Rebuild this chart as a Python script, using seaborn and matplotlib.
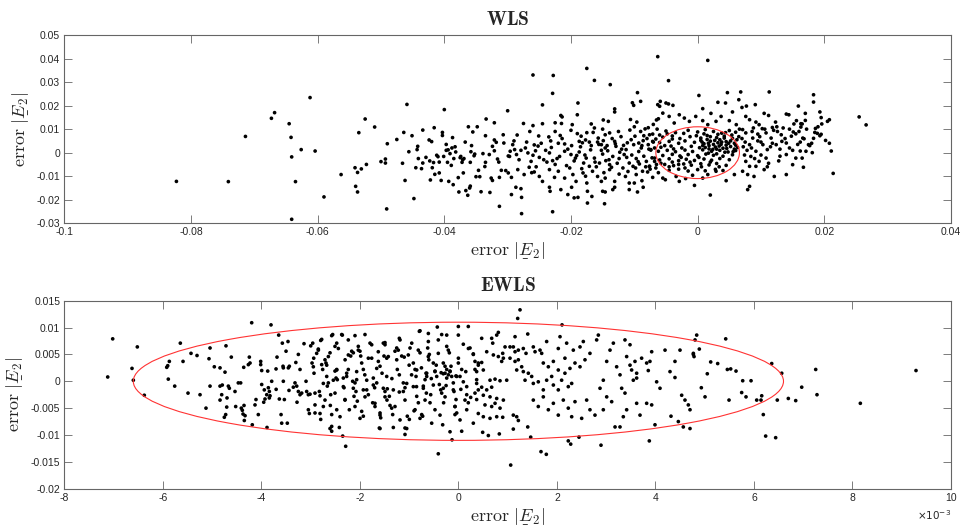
import numpy as np
import pandas as pd
import seaborn as sns
import matplotlib
matplotlib.use("Agg")
import matplotlib.pyplot as plt
from matplotlib.patches import Ellipse
from matplotlib.ticker import FuncFormatter
from matplotlib.mathtext import MathTextParser

# ---------------- data ----------------
# WLS panel: (error x, error y)
wls_left = [(-0.0823,-0.0122),(-0.0741,-0.0123),(-0.0714,0.0069),(-0.0673,0.0146),(-0.0668,0.0170),(-0.0645,0.0123),(-0.0642,0.0065),(-0.0641,-0.0018),(-0.0641,-0.0283),(-0.0635,-0.0123),(-0.0626,0.0013),(-0.0612,0.0234),(-0.0604,0.0007),(-0.0590,-0.0188),(-0.0563,-0.0093),(-0.0541,-0.0064),(-0.0540,-0.0143),(-0.0537,-0.0167),(-0.0537,-0.0084),(-0.0535,0.0085),(-0.0531,-0.0069),(-0.0525,0.0143),(-0.0523,-0.0050),(-0.0510,0.0109),(-0.0500,-0.0038),(-0.0493,-0.0027),(-0.0493,-0.0044),(-0.0491,-0.0239),(-0.0490,0.0038),(-0.0475,0.0056),(-0.0466,-0.0045),(-0.0464,0.0086),(-0.0462,-0.0118),(-0.0459,0.0205),(-0.0456,0.0004),(-0.0451,0.0072),(-0.0448,-0.0195),(-0.0445,-0.0064),(-0.0443,0.0013),(-0.0442,0.0027),(-0.0441,-0.0025),(-0.0436,-0.0068),(-0.0434,0.0096),(-0.0434,-0.0044),(-0.0429,-0.0020),(-0.0424,0.0054),(-0.0423,-0.0035),(-0.0422,-0.0116),(-0.0420,0.0047),(-0.0419,-0.0064),(-0.0417,-0.0042),(-0.0416,0.0106),(-0.0415,-0.0092),(-0.0412,-0.0011),(-0.0410,-0.0017),(-0.0408,-0.0086),(-0.0408,-0.0040),(-0.0405,-0.0118),(-0.0403,0.0086),(-0.0403,0.0073),(-0.0401,-0.0016),(-0.0400,0.0183),(-0.0397,0.0035),(-0.0397,0.0010),(-0.0394,0.0012),(-0.0395,-0.0041),(-0.0393,-0.0122),(-0.0391,-0.0004),(-0.0389,-0.0054),(-0.0388,0.0020),(-0.0387,0.0064),(-0.0386,-0.0136),(-0.0385,-0.0025),(-0.0383,0.0025),(-0.0382,0.0003),(-0.0378,-0.0106),(-0.0377,-0.0167),(-0.0375,-0.0021),(-0.0374,-0.0016),(-0.0372,-0.0041),(-0.0371,-0.0030),(-0.0370,-0.0086),(-0.0369,-0.0025),(-0.0367,0.0045),(-0.0366,-0.0161),(-0.0363,-0.0181),(-0.0362,0.0110),(-0.0360,-0.0150),(-0.0359,-0.0142),(-0.0359,-0.0041),(-0.0358,0.0004),(-0.0357,0.0030),(-0.0355,0.0088),(-0.0353,-0.0013),(-0.0352,-0.0006),(-0.0350,-0.0102),(-0.0348,0.0110),(-0.0346,-0.0075)]

wls_mid1 = [(-0.0334,0.0143),(-0.0321,0.0127),(-0.0335,0.0072),(-0.0307,0.0076),(-0.0300,0.0178),(-0.0321,0.0054),(-0.0318,0.0044),(-0.0306,0.0041),(-0.0324,0.0027),(-0.0321,0.0008),(-0.0339,-0.0004),(-0.0329,-0.0008),(-0.0299,-0.0014),(-0.0316,-0.0027),(-0.0314,-0.0040),(-0.0335,-0.0041),(-0.0336,-0.0059),(-0.0310,-0.0075),(-0.0303,-0.0076),(-0.0299,-0.0086),(-0.0313,-0.0105),(-0.0326,-0.0108),(-0.0324,-0.0118),(-0.0328,-0.0169),(-0.0342,-0.0166),(-0.0313,-0.0228),(-0.0344,-0.0102)]

wls_mid2 = [(-0.0063,0.0408),(-0.0175,0.0358),(-0.0260,0.0330),(-0.0228,0.0328),(-0.0163,0.0307),(-0.0138,0.0289),(-0.0229,0.0252),(-0.0095,0.0255),(-0.0103,0.0212),(-0.0101,0.0201),(-0.0090,0.0218),(-0.0245,0.0203),(-0.0189,0.0211),(-0.0190,0.0161),(-0.0216,0.0158),(-0.0214,0.0152),(-0.0131,0.0186),(-0.0131,0.0173),(-0.0063,0.0204),(-0.0106,0.0141),(-0.0096,0.0130),(-0.0149,0.0139),(-0.0141,0.0133),(-0.0168,0.0122),(-0.0198,0.0119),(-0.0275,0.0124),(-0.0260,0.0115),(-0.0245,0.0123),(-0.0225,0.0127),(-0.0215,0.0124),(-0.0065,0.0139),(-0.0062,0.0144),(-0.0107,0.0096),(-0.0083,0.0101),(-0.0078,0.0106),(-0.0165,0.0086),(-0.0163,0.0105),(-0.0190,0.0081),(-0.0251,0.0071),(-0.0235,0.0067),(-0.0232,0.0050),(-0.0217,0.0073),(-0.0146,0.0076),(-0.0139,0.0084),(-0.0085,0.0072),(-0.0071,0.0079),(-0.0292,0.0034),(-0.0258,0.0033),(-0.0252,0.0028),(-0.0210,0.0037),(-0.0187,0.0048),(-0.0182,0.0042),(-0.0177,0.0054),(-0.0171,0.0045),(-0.0158,0.0045),(-0.0152,0.0034),(-0.0149,0.0051),(-0.0146,0.0020),(-0.0143,0.0030),(-0.0131,0.0048),(-0.0129,0.0027),(-0.0117,0.0031),(-0.0113,0.0013),(-0.0101,0.0034),(-0.0093,0.0041),(-0.0089,0.0020),(-0.0086,0.0051),(-0.0078,0.0034),(-0.0074,0.0011),(-0.0070,0.0045),(-0.0296,0.0006),(-0.0289,0.0013),(-0.0286,-0.0008),(-0.0279,0.0010),(-0.0297,-0.0016),(-0.0268,-0.0001),(-0.0260,-0.0011),(-0.0250,-0.0020),(-0.0243,-0.0030),(-0.0263,-0.0037),(-0.0234,-0.0001),(-0.0229,-0.0034),(-0.0218,-0.0016),(-0.0210,0.0006),(-0.0200,-0.0008),(-0.0193,-0.0023),(-0.0187,0.0003),(-0.0180,-0.0044),(-0.0176,-0.0023),(-0.0171,-0.0058),(-0.0163,-0.0023),(-0.0155,-0.0044),(-0.0150,-0.0006),(-0.0145,-0.0034),(-0.0139,-0.0051),(-0.0134,-0.0016),(-0.0124,-0.0025),(-0.0116,-0.0008),(-0.0108,-0.0044),(-0.0102,-0.0058),(-0.0097,-0.0025),(-0.0092,-0.0048),(-0.0087,-0.0079),(-0.0081,-0.0037),(-0.0076,-0.0058),(-0.0068,-0.0037),(-0.0294,-0.0105),(-0.0284,-0.0072),(-0.0274,-0.0093),(-0.0266,-0.0062),(-0.0258,-0.0082),(-0.0250,-0.0101),(-0.0245,-0.0122),(-0.0234,-0.0072),(-0.0226,-0.0105),(-0.0220,-0.0079),(-0.0210,-0.0108),(-0.0202,-0.0065),(-0.0197,-0.0093),(-0.0192,-0.0122),(-0.0181,-0.0086),(-0.0175,-0.0129),(-0.0166,-0.0079),(-0.0158,-0.0101),(-0.0152,-0.0122),(-0.0146,-0.0108),(-0.0139,-0.0072),(-0.0131,-0.0122),(-0.0124,-0.0091),(-0.0114,-0.0101),(-0.0108,-0.0129),(-0.0097,-0.0093),(-0.0088,-0.0119),(-0.0079,-0.0082),(-0.0071,-0.0105),(-0.0287,-0.0147),(-0.0279,-0.0153),(-0.0294,-0.0178),(-0.0278,-0.0190),(-0.0234,-0.0147),(-0.0233,-0.0164),(-0.0216,-0.0157),(-0.0205,-0.0178),(-0.0199,-0.0147),(-0.0195,-0.0192),(-0.0189,-0.0190),(-0.0174,-0.0164),(-0.0167,-0.0186),(-0.0174,-0.0214),(-0.0150,-0.0164),(-0.0146,-0.0167),(-0.0134,-0.0157),(-0.0131,-0.0147),(-0.0108,-0.0157),(-0.0100,-0.0129),(-0.0095,-0.0167),(-0.0086,-0.0147),(-0.0147,-0.0217),(-0.0278,-0.0259),(-0.0229,-0.0251),
            (-0.0205,0.0015),(-0.0195,-0.0035),(-0.0185,0.0025),(-0.0178,-0.0010),(-0.0168,0.0030),(-0.0160,-0.0060),(-0.0152,0.0010),(-0.0140,-0.0030),(-0.0135,0.0060),(-0.0127,-0.0045),(-0.0120,0.0015),(-0.0112,-0.0020),(-0.0105,0.0055),(-0.0098,-0.0065),(-0.0093,0.0005),(-0.0085,-0.0015),(-0.0080,0.0060),(-0.0075,-0.0070),(-0.0068,0.0020),(-0.0065,-0.0050),(-0.0240,0.0010),(-0.0225,-0.0050),(-0.0270,0.0045),(-0.0255,-0.0060),(-0.0220,0.0040),(-0.0183,-0.0068),(-0.0157,0.0062),(-0.0121,0.0068),(-0.0110,-0.0080),(-0.0090,0.0090)]

wls_mid3 = [(-0.0290,0.0050),(-0.0282,-0.0030),(-0.0272,0.0020),(-0.0262,-0.0085),(-0.0256,0.0008),(-0.0247,0.0040),(-0.0238,-0.0040),(-0.0231,0.0022),(-0.0222,-0.0025),(-0.0214,0.0060),(-0.0207,-0.0055),(-0.0199,0.0030),(-0.0191,-0.0012),(-0.0184,0.0070),(-0.0177,-0.0100),(-0.0169,0.0012),(-0.0162,-0.0040),(-0.0156,0.0035),(-0.0148,-0.0085),(-0.0142,0.0008),(-0.0136,-0.0062),(-0.0130,0.0038),(-0.0123,0.0002),(-0.0118,-0.0065),(-0.0111,0.0042),(-0.0104,-0.0010),(-0.0099,0.0070),(-0.0094,-0.0038),(-0.0088,0.0030),(-0.0082,-0.0060),(-0.0077,0.0015),(-0.0072,-0.0022),(-0.0066,0.0058),(-0.0062,-0.0085),(-0.0064,0.0100),(-0.0070,0.0120),(-0.0100,0.0110),(-0.0125,0.0090),(-0.0150,0.0100),(-0.0175,0.0085),(-0.0200,0.0095),(-0.0225,0.0090),(-0.0265,0.0090),(-0.0285,0.0075)]

wls_core = [(-0.0050,0.0092),(-0.0035,0.0085),(-0.0015,0.0095),(0.0000,0.0088),(0.0012,0.0098),(0.0025,0.0090),(0.0038,0.0083),(0.0050,0.0094),(0.0060,0.0087),
            (-0.0055,0.0066),(-0.0040,0.0071),(-0.0028,0.0060),(-0.0012,0.0068),(0.0005,0.0062),(0.0015,0.0073),(0.0030,0.0064),(0.0042,0.0070),(0.0055,0.0061),(0.0065,0.0068),
            (-0.0060,0.0043),(-0.0045,0.0048),(-0.0030,0.0040),(-0.0020,0.0050),(-0.0005,0.0044),(0.0010,0.0038),(0.0020,0.0049),(0.0032,0.0042),(0.0045,0.0047),(0.0058,0.0040),
            (-0.0058,0.0023),(-0.0042,0.0028),(-0.0025,0.0020),(-0.0010,0.0027),(0.0003,0.0021),(0.0018,0.0030),(0.0028,0.0024),(0.0040,0.0019),(0.0052,0.0026),(0.0063,0.0022),
            (-0.0062,0.0006),(-0.0048,0.0010),(-0.0035,0.0004),(-0.0020,0.0011),(-0.0008,0.0005),(0.0008,0.0012),(0.0022,0.0006),(0.0035,0.0010),(0.0048,0.0003),(0.0060,0.0009),
            (-0.0055,-0.0012),(-0.0040,-0.0007),(-0.0028,-0.0014),(-0.0015,-0.0008),(0.0000,-0.0013),(0.0013,-0.0006),(0.0025,-0.0011),(0.0040,-0.0015),(0.0055,-0.0009),
            (-0.0060,-0.0031),(-0.0045,-0.0026),(-0.0030,-0.0034),(-0.0018,-0.0028),(-0.0005,-0.0033),(0.0010,-0.0027),(0.0022,-0.0032),(0.0035,-0.0025),(0.0050,-0.0030),
            (-0.0052,-0.0050),(-0.0038,-0.0055),(-0.0022,-0.0048),(-0.0010,-0.0053),(0.0005,-0.0047),(0.0018,-0.0052),(0.0030,-0.0046),(0.0045,-0.0054),
            (-0.0045,-0.0075),(-0.0030,-0.0070),(-0.0015,-0.0078),(0.0000,-0.0072),(0.0012,-0.0077),(0.0028,-0.0071),(0.0040,-0.0076),
            (0.0005,0.0052),(0.0015,0.0056),(0.0025,0.0035),(0.0035,0.0055),(0.0045,0.0032),(0.0030,0.0015),(0.0042,0.0062),(0.0018,0.0016),(0.0052,0.0050),(0.0008,0.0030),(0.0038,0.0045),(0.0058,0.0015),(-0.0030,-0.0050),(-0.0040,-0.0040),(-0.0020,-0.0065),(0.0002,-0.0020),(-0.0048,0.0080),(-0.0060,0.0075),
            (-0.0055,0.0168),(-0.0045,0.0154),(-0.0037,0.0126),(-0.0029,0.0161),(-0.0021,0.0147),(-0.0013,0.0133),(-0.0003,0.0154),(0.0008,0.0136),(0.0016,0.0119),(0.0029,0.0133),(0.0037,0.0154),(0.0050,0.0136),(0.0061,0.0119),
            (-0.0076,0.0076),(-0.0071,0.0048),(-0.0074,0.0013),(-0.0068,-0.0023),(-0.0076,-0.0058),(-0.0066,-0.0065),
            (0.0016,0.0392),(-0.0046,0.0306),(0.0002,0.0243),(0.0047,0.0255),(0.0068,0.0258),(0.0113,0.0258),(0.0065,0.0225),(-0.0060,0.0197),(-0.0050,0.0211),(-0.0046,0.0207),(-0.0039,0.0201),(-0.0059,0.0218),(0.0008,0.0187),(0.0021,0.0167),(0.0032,0.0214),(0.0044,0.0211),(0.0055,0.0173),(0.0070,0.0192),(0.0077,0.0198),(0.0091,0.0204),
            (0.0020,-0.0180),(-0.0005,-0.0139),(-0.0055,-0.0108),(-0.0051,-0.0115),(-0.0034,-0.0101),(-0.0029,-0.0122),(-0.0019,-0.0110),(-0.0008,-0.0096),(0.0008,-0.0108),(0.0016,-0.0093),(0.0029,-0.0079),(0.0045,-0.0119),(0.0058,-0.0093)]

wls_core2 = [(0.0010,0.0080),(0.0020,0.0068),(0.0032,0.0078),(0.0044,0.0085),(0.0054,0.0075),(0.0062,0.0055),(0.0007,0.0045),(0.0017,0.0040),(0.0027,0.0052),(0.0037,0.0035),(0.0049,0.0040),(0.0060,0.0032),(0.0012,0.0022),(0.0024,0.0014),(0.0034,0.0028),(0.0046,0.0018),(0.0056,0.0004),(0.0017,-0.0002),(0.0030,-0.0005),(0.0043,0.0002),(-0.0002,0.0072),(-0.0022,0.0082),(-0.0040,0.0058),(-0.0052,0.0030),(-0.0038,0.0016),(-0.0026,-0.0020),(-0.0012,-0.0040),(0.0006,-0.0060),(0.0020,-0.0040),(0.0034,-0.0060),(-0.0045,-0.0060),(-0.0058,-0.0045),(0.0066,0.0100),(0.0070,0.0060),(0.0078,0.0010),(0.0086,0.0090),(0.0090,-0.0025),(0.0100,0.0045),(0.0106,0.0100),(0.0110,-0.0060),(0.0118,0.0040),(0.0125,0.0110),(0.0130,-0.0015),(0.0138,0.0060),(0.0150,0.0010),(0.0155,0.0080),(0.0162,0.0045),(0.0172,0.0100),(0.0180,0.0040),(0.0190,0.0110)]

wls_right = [(0.0159,0.0198),(0.0170,0.0167),(0.0140,0.0164),(0.0144,0.0161),(0.0156,0.0136),(0.0152,0.0122),(0.0165,0.0122),(0.0151,0.0088),(0.0166,0.0062),(0.0171,0.0006),(0.0175,0.0034),(0.0167,-0.0062),
             (0.0105,0.0167),(0.0112,0.0158),(0.0123,0.0130),(0.0118,0.0107),(0.0126,0.0090),(0.0132,0.0076),(0.0124,0.0034),(0.0133,0.0048),(0.0140,0.0041),(0.0145,0.0020),(0.0140,-0.0008),(0.0155,-0.0023),(0.0150,-0.0051),(0.0140,-0.0093),(0.0121,-0.0101),(0.0105,-0.0072),(0.0092,-0.0058),
             (0.0076,0.0154),(0.0082,0.0140),(0.0092,0.0130),(0.0097,0.0119),(0.0102,0.0102),(0.0108,0.0084),(0.0095,0.0079),(0.0087,0.0062),(0.0076,0.0084),(0.0071,0.0098),(0.0082,0.0034),(0.0092,0.0006),(0.0103,0.0034),(0.0110,0.0013),(0.0116,0.0062),(0.0108,-0.0023),(0.0097,-0.0037),(0.0084,-0.0016),(0.0076,-0.0037),(0.0082,-0.0058),(0.0071,-0.0079),(0.0079,-0.0093),(0.0089,-0.0101),(0.0082,-0.0143),(0.0079,-0.0157),
             (0.0183,0.0246),(0.0183,0.0215),(0.0193,0.0173),(0.0195,0.0149),(0.0170,0.0137),(0.0208,0.0140),(0.0205,0.0133),(0.0196,0.0122),(0.0163,0.0123),(0.0163,0.0109),(0.0186,0.0103),(0.0185,0.0086),(0.0189,0.0082),(0.0193,0.0072),(0.0195,0.0078),(0.0168,0.0059),(0.0183,0.0061),(0.0202,0.0052),(0.0208,0.0040),(0.0177,0.0030),(0.0162,0.0007),(0.0181,0.0000),(0.0211,0.0007),(0.0165,-0.0023),(0.0214,-0.0088),(0.0255,0.0152),(0.0266,0.0118),
             (0.0075,0.0045),(0.0085,0.0020),(0.0095,0.0050),(0.0100,-0.0010),(0.0115,0.0025),(0.0120,0.0095),(0.0128,-0.0035),(0.0135,0.0105),(0.0148,0.0070),(0.0158,0.0035),(0.0072,0.0025),(0.0088,0.0105),(0.0098,0.0068),(0.0130,0.0015),(0.0145,0.0100),(0.0160,0.0090),(0.0074,-0.0010),(0.0112,-0.0045)]

# EWLS panel: (error x in units of 1e-3, error y)
ewls_left = [(-7.119,0.0008),(-7.018,0.0079),(-6.626,0.0024),(-6.599,0.0002),(-6.518,0.0064),(-6.376,-0.0026),(-5.921,0.0026),(-5.901,0.0029),(-5.868,0.0037),(-5.889,0.0004),(-5.759,-0.0009),(-5.645,0.0071),(-5.590,0.0037),(-5.489,-0.0022),(-5.428,0.0052),(-5.306,0.0048),(-5.245,-0.0025),(-5.124,-0.0050),(-5.063,0.0042),(-5.042,-0.0009),(-5.042,0.0062),(-4.955,0.0027),(-4.839,0.0025),(-4.839,-0.0009),(-4.793,-0.0007),(-4.805,-0.0025),(-4.839,-0.0035),(-4.752,-0.0067),(-4.724,-0.0062),(-4.738,0.0017),(-4.718,0.0066),(-4.670,-0.0009),(-4.650,-0.0013),(-4.697,-0.0031),(-4.703,-0.0048),(-4.610,0.0045),(-4.535,-0.0019),(-4.521,-0.0047),(-4.468,-0.0003),(-4.420,-0.0003),(-4.407,-0.0050),(-4.386,-0.0054),(-4.372,-0.0061),(-4.358,0.0026),(-4.352,-0.0045),(-4.346,-0.0073),(-4.331,-0.0064),(-4.264,0.0031),(-4.244,0.0045),(-4.230,0.0034),(-4.196,0.0109),(-4.184,-0.0081),(-4.129,-0.0044),(-4.109,-0.0034),(-4.062,-0.0062),(-4.013,0.0037),(-4.013,0.0031),(-3.993,0.0020),(-3.993,-0.0006),(-3.952,-0.0039),(-3.926,-0.0033),(-3.891,-0.0025),(-3.940,-0.0016),(-3.885,-0.0086),(-3.871,0.0019),(-3.858,-0.0012),(-3.838,-0.0019),(-3.824,-0.0027),(-3.804,0.0105),(-3.790,0.0000),(-3.838,-0.0031),(-3.702,0.0023),(-3.682,0.0045),(-3.648,0.0086),(-3.635,-0.0033),(-3.600,-0.0062),(-3.587,-0.0078),(-3.574,0.0071),(-3.560,0.0028),(-3.554,0.0025),(-3.554,0.0000),(-3.533,-0.0034),(-3.499,0.0056),(-3.473,-0.0078),(-3.459,0.0074),(-3.452,0.0025),(-3.432,0.0028),(-3.439,-0.0017),(-3.351,-0.0011),(-3.276,-0.0039),(-3.249,0.0050),(-3.215,0.0022),(-3.317,-0.0003),(-3.282,-0.0009),(-3.249,-0.0019),(-3.215,-0.0025),(-3.181,-0.0022),(-3.134,0.0070),(-3.093,0.0000),(-3.080,-0.0019),(-3.046,-0.0025),(-3.012,-0.0024),(-3.046,-0.0053),(-3.026,-0.0060),(-2.998,0.0066),(-2.971,0.0034),(-2.937,0.0043),(-2.931,0.0015),(-2.911,-0.0044),(-2.911,-0.0059),(-2.844,0.0060),(-2.823,-0.0019),(-2.809,-0.0027),(-2.795,0.0076),(-2.795,-0.0071),(-2.775,0.0031),(-2.755,0.0022),(-2.742,-0.0047),(-2.708,0.0040),(-2.688,0.0034),(-2.673,0.0009),(-2.640,-0.0003),(-2.661,-0.0009),(-2.606,0.0053),(-2.592,-0.0025),(-2.572,-0.0084),(-2.572,-0.0093),(-2.572,-0.0062),(-2.552,0.0087),(-2.505,0.0065),(-2.470,0.0071),(-2.505,0.0019),(-2.470,0.0022),(-2.484,0.0006),(-2.458,0.0003),(-2.470,-0.0053),(-2.417,-0.0086),(-2.369,0.0087),(-2.349,-0.0102),(-2.336,0.0006),(-2.322,-0.0012),(-2.302,-0.0034),(-2.288,-0.0121),(-2.268,0.0015),(-2.235,0.0022),(-2.235,0.0077),(-2.214,-0.0053)]

ewls_mid = [(-2.186,0.0047),(-2.166,0.0056),(-2.133,0.0053),(-2.146,0.0000),(-2.099,-0.0003),(-2.065,0.0003),(-2.119,-0.0028),(-2.079,-0.0019),(-2.052,-0.0037),(-2.032,0.0065),(-1.998,0.0056),(-1.983,0.0047),(-1.963,0.0034),(-1.930,0.0022),(-1.963,-0.0056),(-1.930,-0.0065),(-1.896,0.0087),(-1.861,-0.0016),(-1.828,-0.0025),(-1.794,0.0071),(-1.760,0.0043),(-1.740,-0.0040),(-1.693,-0.0047),(-1.727,0.0006),(-1.658,-0.0003),(-1.625,0.0037),(-1.591,0.0028),(-1.605,-0.0087),(-1.591,-0.0059),(-1.577,-0.0068),(-1.524,0.0071),(-1.490,0.0068),(-1.510,0.0047),(-1.455,0.0043),(-1.490,-0.0019),(-1.443,-0.0014),(-1.402,-0.0028),(-1.388,-0.0045),(-1.354,-0.0050),(-1.334,-0.0062),(-1.321,-0.0086),(-1.287,0.0056),(-1.252,0.0062),(-1.240,0.0022),(-1.199,0.0012),(-1.185,0.0077),(-1.151,0.0047),(-1.118,-0.0003),(-1.084,-0.0012),(-1.084,-0.0087),(-1.084,-0.0099),(-1.037,-0.0065),(-0.996,-0.0071),(-0.982,0.0062),(-0.947,0.0071),(-0.915,0.0034),(-0.880,0.0022),(-0.860,0.0009),(-0.846,-0.0028),(-0.813,-0.0040),(-0.793,0.0093),(-0.779,0.0053),(-0.745,-0.0062),(-0.725,-0.0065),(-0.712,-0.0009),(-0.677,0.0003),(-0.657,0.0015),(-0.643,0.0009),(-0.623,0.0062),(-0.590,0.0050),(-0.610,0.0074),(-0.576,-0.0040),(-0.562,-0.0025),(-0.542,-0.0078),(-0.509,0.0034),(-0.475,0.0019),(-0.440,0.0009),(-0.428,0.0101),(-0.408,-0.0135),(-0.387,-0.0006),(-0.359,-0.0016),(-0.339,-0.0022),(-0.339,0.0087),(-0.319,-0.0081),(-0.306,0.0034),(-0.271,0.0028),(-0.237,0.0022),(-0.271,0.0015),(-0.204,0.0012),(-0.170,0.0019),(-0.237,0.0006),(-0.136,0.0009),(-0.237,0.0065),(-0.184,0.0053),(-0.129,-0.0109),(-0.103,-0.0003),(-0.089,-0.0019),(-0.048,-0.0034),(-0.069,-0.0047),(-0.069,-0.0062),(-0.034,-0.0059),(-0.001,0.0034),(-0.001,0.0102),(0.033,0.0009),(0.067,0.0022),(0.067,-0.0093),(0.100,0.0069),(0.169,-0.0025),(0.201,-0.0040),(0.169,-0.0053),(0.201,0.0102),(0.236,0.0062),(0.303,0.0050),(0.337,0.0022),(0.303,-0.0078),(0.371,0.0003),(0.404,-0.0016),(0.371,-0.0034),
            (0.473,0.0080),(0.676,0.0080),(0.697,0.0071),(0.778,0.0086),(0.811,0.0091),(0.947,0.0064),(0.900,0.0052),(0.575,0.0055),(0.710,0.0049),(0.811,0.0046),(0.913,0.0043),(0.879,0.0037),(0.337,0.0037),(0.404,0.0030),(0.473,0.0035),(0.506,0.0021),(0.371,0.0018),(0.642,0.0002),(0.744,0.0004),(0.845,0.0001),(0.981,0.0002),(0.473,-0.0011),(0.575,-0.0016),(0.676,-0.0011),(0.506,-0.0026),(0.642,-0.0029),(0.778,-0.0032),(0.913,-0.0035),(0.540,-0.0044),(0.676,-0.0047),(0.744,-0.0041),(0.404,-0.0060),(0.506,-0.0066),(0.642,-0.0069),(0.778,-0.0066),(0.900,-0.0067),(0.845,-0.0050),(0.493,-0.0095),(0.608,-0.0101),(0.831,-0.0098),
            (-1.9,0.0012),(-1.7,-0.0012),(-1.55,0.0015),(-1.35,0.0005),(-1.2,-0.0020),(-1.0,0.0030),(-0.95,0.0012),(-0.85,-0.0010),(-0.75,0.0025),(-0.65,-0.0022),(-0.55,0.0005),(-0.45,0.0030),(-0.35,0.0016),(-0.25,-0.0008),(-0.15,0.0028),(-0.05,0.0010),(0.05,-0.0015),(0.15,0.0018),(0.25,-0.0030),(-0.6,0.0040),(-0.3,-0.0040),(-1.1,0.0045),(-1.45,-0.0035),(-0.9,-0.0055),(-2.3,0.0040),(-2.6,-0.0045),(-3.3,0.0035),(-3.7,-0.0015)]

ewls_mid2 = [(-2.957,0.0071),(-2.775,0.0078),(-2.572,0.0085),(-2.356,0.0086),(-2.099,0.0085),(-1.760,0.0068),(-1.490,0.0072),(-1.199,0.0080),(-0.779,0.0094),(-0.610,0.0089),(-0.408,0.0077),(-0.237,0.0086),(-0.001,0.0086),(0.303,0.0051),(0.404,0.0034),
             (-2.877,0.0052),(-2.673,0.0030),(-2.470,0.0021),(-2.268,0.0009),(-2.065,0.0018),(-1.861,0.0002),(-1.658,0.0024),(-1.455,0.0009),(-1.252,0.0040),(-1.049,-0.0004),(-0.846,0.0021),(-0.643,0.0015),(-0.475,0.0018),(-0.306,0.0014),(-0.170,0.0018),(-0.034,0.0009),(0.100,-0.0001),
             (-2.911,-0.0022),(-2.708,-0.0035),(-2.505,-0.0022),(-2.302,-0.0035),(-2.099,-0.0047),(-1.896,-0.0029),(-1.693,-0.0041),(-1.490,-0.0029),(-1.287,-0.0047),(-1.084,-0.0035),(-0.880,-0.0053),(-0.677,-0.0035),(-0.475,-0.0053),(-0.271,-0.0029),(-0.069,-0.0047),(0.134,-0.0035),(0.337,-0.0022),
             (-2.809,-0.0060),(-2.403,-0.0066),(-1.997,-0.0069),(-1.591,-0.0063),(-1.185,-0.0072),(-0.779,-0.0069),(-0.373,-0.0063),(0.033,-0.0072),(-2.606,-0.0088),(-1.591,-0.0088),(-1.049,-0.0088),(-0.170,-0.0094),
             (-2.945,0.0027),(-2.742,-0.0004),(-2.539,0.0002),(-2.336,-0.0010),(-2.133,-0.0013),(-1.930,-0.0016),(-1.727,-0.0007),(-1.524,-0.0013),(-1.321,-0.0016),(-1.118,-0.0019),(-0.915,-0.0010),(-0.712,-0.0013),(-0.509,-0.0007),(-0.306,-0.0013),(-0.103,-0.0016),(0.169,-0.0010),(0.371,-0.0004),
             (-2.843,0.0058),(-2.640,0.0046),(-2.437,0.0061),(-2.234,0.0049),(-2.032,0.0058),(-1.828,0.0043),(-1.626,0.0055),(-1.423,0.0046),(-1.220,0.0058),(-1.017,0.0049),(-0.814,0.0058),(-0.611,0.0046),(-0.408,0.0052),(-0.205,0.0058),(0.000,0.0043),(0.203,0.0061)]

ewls_right = [(1.251,0.0133),(1.204,0.0117),(2.104,0.0105),(1.062,-0.0156),(1.677,-0.0131),(1.785,-0.0136),(2.231,-0.0111),(2.280,-0.0117),(2.448,-0.0104),(2.895,-0.0119),(3.876,-0.0111),(1.468,-0.0104),(1.115,-0.0089),(1.217,-0.0073),(1.184,-0.0066),(1.115,-0.0063),(1.408,-0.0085),(1.408,0.0088),(1.150,0.0083),
              (1.048,0.0064),(1.115,0.0064),(1.150,0.0055),(1.217,0.0058),(1.318,0.0061),(1.373,0.0052),(1.521,0.0064),(1.556,0.0055),(1.657,0.0058),(1.691,0.0052),
              (1.048,0.0043),(1.150,0.0037),(1.217,0.0040),(1.285,0.0027),(1.184,0.0021),(1.318,0.0018),(1.420,0.0015),(1.488,0.0009),(1.353,0.0002),
              (1.521,-0.0004),(1.622,-0.0001),(1.724,-0.0016),(1.792,0.0002),(1.894,0.0009),(1.928,-0.0007),(2.028,-0.0016),(2.096,0.0002),(2.163,0.0015),(2.231,-0.0010),(2.300,-0.0004),
              (1.724,0.0034),(1.826,0.0027),(1.928,0.0037),(2.028,0.0021),(2.163,0.0043),(2.265,0.0024),(2.367,0.0034),(2.469,0.0027),(2.570,0.0040),
              (1.792,0.0074),(2.028,0.0061),(2.063,0.0083),(2.198,0.0071),(2.333,0.0058),(2.469,0.0064),(2.536,0.0074),(2.671,0.0052),(2.807,0.0077),(2.841,0.0086),
              (1.521,-0.0035),(1.622,-0.0047),(1.724,-0.0029),(1.826,-0.0053),(1.928,-0.0041),(2.028,-0.0063),(2.130,-0.0035),(2.231,-0.0050),(2.300,-0.0066),(2.367,-0.0038),(2.503,-0.0069),(2.604,-0.0035),(2.671,-0.0053),(2.773,-0.0063),
              (2.875,-0.0013),(2.942,0.0002),(3.011,0.0037),(3.078,0.0058),(3.146,0.0071),(3.213,0.0027),(3.281,0.0012),(3.315,-0.0013),(3.382,-0.0022),(3.416,0.0046),(3.484,0.0030),(3.517,0.0021),(3.551,0.0002),
              (2.942,-0.0053),(3.011,-0.0029),(3.112,-0.0038),(3.180,-0.0085),(3.281,-0.0085),(3.348,-0.0066),(3.416,-0.0053),(3.619,-0.0041),(3.687,-0.0063),(3.822,-0.0041),(3.924,-0.0044),(3.991,-0.0081),(3.619,0.0006),
              (3.382,0.0077),(3.484,0.0068),(3.585,0.0037),(3.619,0.0015),(3.720,0.0043),(3.822,0.0034),(3.924,0.0055),(4.025,-0.0001),(4.093,-0.0013),(4.195,0.0058),(4.296,0.0018),(4.397,0.0037),(4.499,0.0058),(4.533,-0.0026),(4.600,-0.0035),(4.668,-0.0044),(4.702,-0.0053),(4.770,0.0052),(4.838,0.0086),(4.804,0.0077),(4.397,0.0007),(3.889,0.0037),(3.855,0.0020),
              (4.316,-0.0065),(4.465,-0.0075),(4.566,-0.0085),(4.702,-0.0088),
              (5.427,0.0079),(4.891,0.0060),(4.770,0.0050),(4.784,0.0046),(5.122,0.0036),(5.264,0.0033),(5.460,0.0022),(5.528,0.0023),(5.636,0.0019),(5.053,0.0014),(5.772,0.0001),(5.941,0.0001),(4.932,-0.0012),(5.751,-0.0021),(5.839,-0.0029),(5.007,-0.0029),(5.494,-0.0035),(6.056,-0.0035),(6.143,-0.0035),(6.158,-0.0027),(6.190,-0.0062),(6.238,-0.0102),(6.441,-0.0105),(6.361,0.0033),(6.564,0.0015),(6.474,-0.0035),(6.698,-0.0032),(6.848,-0.0036),(6.970,-0.0011),(7.254,0.0022),(7.280,-0.0025),(8.160,-0.0041),(9.290,0.0020)]

# confidence ellipse (same in both panels, data units)
ellipse_center = (0.0, 0.0)
ellipse_semi_axes = (0.0066, 0.011)

titles = ["WLS", "EWLS"]
wls_xticks = [-0.1, -0.08, -0.06, -0.04, -0.02, 0, 0.02, 0.04]
wls_yticks = [-0.03, -0.02, -0.01, 0, 0.01, 0.02, 0.03, 0.04, 0.05]
ewls_xticks_milli = [-8, -6, -4, -2, 0, 2, 4, 6, 8, 10]
ewls_yticks = [-0.02, -0.015, -0.01, -0.005, 0, 0.005, 0.01, 0.015]

# ---------------- figure ----------------
sns.set_theme(style="white")
plt.rcParams["font.family"] = ["Liberation Sans", "DejaVu Sans"]
plt.rcParams["mathtext.fontset"] = "cm"
plt.rcParams["axes.unicode_minus"] = False

# pick an underlined-E construction that mathtext can parse
_parser = MathTextParser("agg")
label = r"$\mathrm{error}\ |E_2|$"
for cand in [r"$\mathrm{error}\ |\underset{\_}{E}_2|$",
             r"$\mathrm{error}\ |\underset{-}{E}_2|$"]:
    try:
        _parser.parse(cand, dpi=100)
        label = cand
        break
    except Exception:
        pass

df_wls = pd.DataFrame(wls_left + wls_mid1 + wls_mid2 + wls_mid3 + wls_core + wls_core2 + wls_right,
                      columns=["x", "y"])
df_ewls = pd.DataFrame(ewls_left + ewls_mid + ewls_mid2 + ewls_right, columns=["xm", "y"])
df_ewls["x"] = df_ewls["xm"] * 1e-3

fig = plt.figure(figsize=(9.6, 5.26), dpi=100)
ax1 = fig.add_axes([0.067, 0.5755, 0.9236, 0.358])
ax2 = fig.add_axes([0.067, 0.0709, 0.9236, 0.3574])


def fmt(v, _):
    r = round(v, 6) + 0.0
    return f"{r:g}"


def fmt_milli(v, _):
    r = round(v * 1e3, 6) + 0.0
    return f"{r:g}"


for ax, df, title in [(ax1, df_wls, titles[0]), (ax2, df_ewls, titles[1])]:
    sns.scatterplot(data=df, x="x", y="y", ax=ax, color="black", s=7,
                    linewidth=0, edgecolor="none", legend=False)
    ax.add_patch(Ellipse(ellipse_center, 2 * ellipse_semi_axes[0], 2 * ellipse_semi_axes[1],
                         fill=False, edgecolor="#ff3333", linewidth=0.8, zorder=3))
    ax.set_title(r"$\mathbf{" + title + "}$", fontsize=14, pad=7)
    ax.set_xlabel(label, fontsize=13, labelpad=2)
    ax.set_ylabel(label, fontsize=13, labelpad=4)
    ax.tick_params(direction="in", length=5.5, width=0.6, color="#666666",
                   labelcolor="#262626", labelsize=7.5, top=True, right=True,
                   bottom=True, left=True, pad=3)
    for sp in ax.spines.values():
        sp.set_color("#666666")
        sp.set_linewidth(0.8)
        sp.set_visible(True)
    ax.grid(False)

ax1.set_xlim(-0.1, 0.04)
ax1.set_ylim(-0.03, 0.05)
ax1.set_xticks(wls_xticks)
ax1.set_yticks(wls_yticks)
ax1.xaxis.set_major_formatter(FuncFormatter(fmt))
ax1.yaxis.set_major_formatter(FuncFormatter(fmt))

ax2.set_xlim(-8e-3, 10e-3)
ax2.set_ylim(-0.02, 0.015)
ax2.set_xticks([t * 1e-3 for t in ewls_xticks_milli])
ax2.set_yticks(ewls_yticks)
ax2.xaxis.set_major_formatter(FuncFormatter(fmt_milli))
ax2.yaxis.set_major_formatter(FuncFormatter(fmt))
ax2.text(1.0, -0.105, r"$\times10^{-3}$", transform=ax2.transAxes, ha="right", va="top",
         fontsize=7.5, color="#262626", math_fontfamily="dejavusans")

fig.savefig("out.png", dpi=100, facecolor="white")
